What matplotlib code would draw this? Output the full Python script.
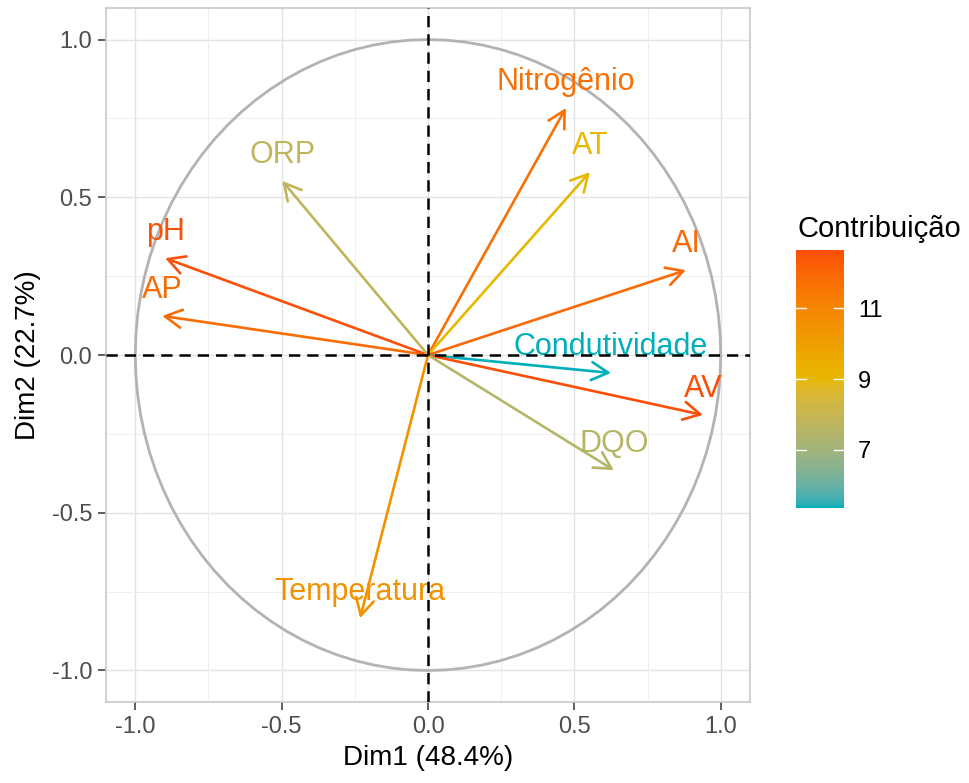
"""PCA correlation circle (variables) coloured by contribution to Dim1+Dim2."""
import numpy as np
import matplotlib
matplotlib.use("Agg")
import matplotlib.pyplot as plt
from matplotlib.colors import ListedColormap, Normalize
from matplotlib.cm import ScalarMappable

plt.rcParams["font.family"] = ["Liberation Sans", "DejaVu Sans"]

# data
variables = ["Nitrogênio", "AT", "AI", "Condutividade", "AV", "DQO",
             "Temperatura", "AP", "pH", "ORP"]
dim1 = [0.471, 0.553, 0.881, 0.625, 0.939, 0.635, -0.232, -0.908, -0.898, -0.498]
dim2 = [0.783, 0.580, 0.269, -0.057, -0.190, -0.365, -0.834, 0.124, 0.307, 0.552]
contrib = [11.7, 9.0, 11.9, 5.35, 12.65, 7.5, 10.5, 11.8, 12.6, 7.8]
cbar_ticks = [7, 9, 11]
xlabel = "Dim1 (48.4%)"
ylabel = "Dim2 (22.7%)"
legend_title = "Contribuição"

GRAD = ["#00AFBB", "#E7B800", "#FC4E07"]


# ggplot interpolates gradients in Lab space -- mimic that
def hex_to_rgb(h):
    h = h.lstrip("#")
    return np.array([int(h[i:i + 2], 16) / 255 for i in (0, 2, 4)])


WHITE = np.array([0.95047, 1.0, 1.08883])
M = np.array([[0.4124564, 0.3575761, 0.1804375],
              [0.2126729, 0.7151522, 0.0721750],
              [0.0193339, 0.1191920, 0.9503041]])


def rgb_to_lab(c):
    lin = np.where(c <= 0.04045, c / 12.92, ((c + 0.055) / 1.055) ** 2.4)
    xyz = M @ lin / WHITE
    f = np.where(xyz > 216 / 24389, np.cbrt(xyz), (24389 / 27 * xyz + 16) / 116)
    return np.array([116 * f[1] - 16, 500 * (f[0] - f[1]), 200 * (f[1] - f[2])])


def lab_to_rgb(lab):
    fy = (lab[0] + 16) / 116
    fx = fy + lab[1] / 500
    fz = fy - lab[2] / 200
    f = np.array([fx, fy, fz])
    xyz = np.where(f ** 3 > 216 / 24389, f ** 3, (116 * f - 16) / (24389 / 27)) * WHITE
    lin = np.linalg.solve(M, xyz)
    c = np.where(lin <= 0.0031308, 12.92 * lin, 1.055 * np.clip(lin, 0, None) ** (1 / 2.4) - 0.055)
    return np.clip(c, 0, 1)


labs = [rgb_to_lab(hex_to_rgb(h)) for h in GRAD]
cols = []
for t in np.linspace(0, 1, 256):
    seg = min(int(t * 2), 1)
    u = t * 2 - seg
    cols.append(lab_to_rgb(labs[seg] * (1 - u) + labs[seg + 1] * u))
cmap = ListedColormap(cols)
norm = Normalize(vmin=min(contrib), vmax=max(contrib))

fig = plt.figure(figsize=(9.69, 7.83), dpi=100)
ax = fig.add_axes([0.1094, 0.1034, 0.6646, 0.8864])
ax.set_xlim(-1.1, 1.1)
ax.set_ylim(-1.1, 1.1)

# grid
for v in [-1, -0.5, 0, 0.5, 1]:
    ax.axvline(v, color="#E3E3E3", lw=1.0, zorder=0)
    ax.axhline(v, color="#E3E3E3", lw=1.0, zorder=0)
for v in [-0.75, -0.25, 0.25, 0.75]:
    ax.axvline(v, color="#EDEDED", lw=0.6, zorder=0)
    ax.axhline(v, color="#EDEDED", lw=0.6, zorder=0)

t = np.linspace(0, 2 * np.pi, 101)
ax.plot(np.cos(t), np.sin(t), color="#B3B3B3", lw=2.0, zorder=1)

for name, x, y, c in zip(variables, dim1, dim2, contrib):
    col = cmap(norm(c))
    ax.annotate("", xy=(x, y), xytext=(0, 0),
                arrowprops=dict(arrowstyle="->,head_length=1.2,head_width=0.65",
                                mutation_scale=10, color=col, lw=1.9,
                                shrinkA=0, shrinkB=0), zorder=3)
    ax.annotate(name, (x, y), xytext=(0, 13), textcoords="offset points",
                ha="center", va="baseline", color=col, fontsize=22, zorder=4)

ax.axhline(0, color="black", lw=1.8, ls=(0, (4.5, 2.8)), zorder=5)
ax.axvline(0, color="black", lw=1.8, ls=(0, (4.5, 2.8)), zorder=5)

ticks = [-1.0, -0.5, 0.0, 0.5, 1.0]
ax.set_xticks(ticks)
ax.set_yticks(ticks)
ax.set_xticklabels([f"{v:.1f}" for v in ticks])
ax.set_yticklabels([f"{v:.1f}" for v in ticks])
ax.tick_params(labelsize=17, labelcolor="#4D4D4D", color="#333333",
               length=6, width=1.1, pad=4)
for s in ax.spines.values():
    s.set_color("#C8C8C8")
    s.set_linewidth(1.2)
ax.set_xlabel(xlabel, fontsize=20, labelpad=5)
ax.set_ylabel(ylabel, fontsize=20, labelpad=8)

# colour bar legend
cax = fig.add_axes([0.8215, 0.3512, 0.0495, 0.3295])
cb = fig.colorbar(ScalarMappable(norm=norm, cmap=cmap), cax=cax)
cb.outline.set_visible(False)
cb.set_ticks(cbar_ticks)
cb.ax.tick_params(labelsize=17, color="white", length=0, pad=10)
for v in cbar_ticks:
    cax.plot([0, 0.2], [v, v], color="white", lw=1.0, transform=cax.get_yaxis_transform())
    cax.plot([0.8, 1.0], [v, v], color="white", lw=1.0, transform=cax.get_yaxis_transform())
fig.text(0.8225, 0.69, legend_title, fontsize=21, ha="left", va="bottom")

fig.savefig("out.png", dpi=100)
